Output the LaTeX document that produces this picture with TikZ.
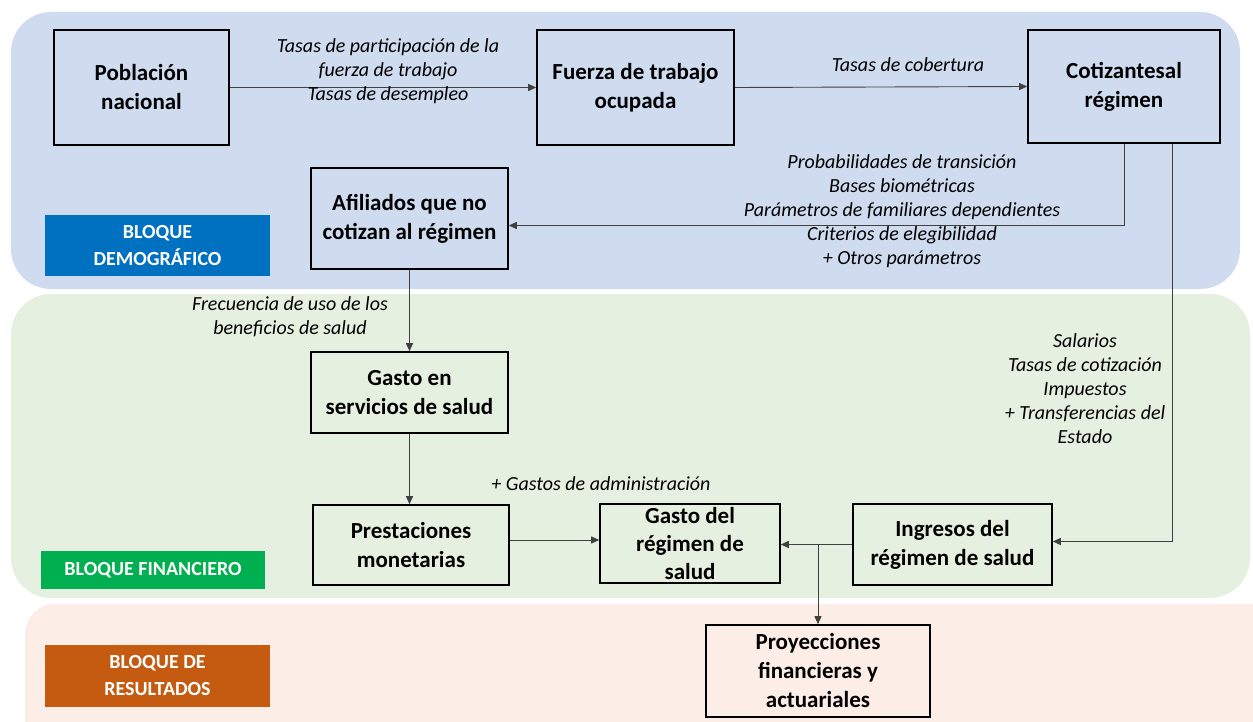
\documentclass[tikz,border=0pt]{standalone}
\usepackage{fontspec}
\setmainfont{Carlito}
\usetikzlibrary{arrows.meta}
\definecolor{bgblue}{HTML}{CFDCEF}
\definecolor{bggreen}{HTML}{E6F0E0}
\definecolor{bgpeach}{HTML}{FCEEE7}
\definecolor{tagblue}{HTML}{0070C0}
\definecolor{taggreen}{HTML}{00B050}
\definecolor{tagorange}{HTML}{C55A11}
\definecolor{linegray}{HTML}{404040}
\begin{document}
\begin{tikzpicture}[x=1pt,y=-1pt,
  box/.style={draw=black, line width=1.6pt, align=center, inner sep=0pt,
    font=\bfseries\fontsize{23}{29}\selectfont},
  tag/.style={text=white, align=center, inner sep=0pt,
    font=\bfseries\fontsize{20}{27}\selectfont},
  lbl/.style={align=center, inner sep=0pt, font=\itshape\fontsize{20}{24}\selectfont},
  conn/.style={draw=linegray, line width=0.9pt, -{Triangle[length=8pt,width=7pt]}}]
\useasboundingbox (0,0) rectangle (1253,722);
% backgrounds
\fill[bgblue, rounded corners=40pt] (11,12) rectangle (1240,289);
\fill[bggreen, rounded corners=40pt] (11,294) rectangle (1250,598);
\fill[bgpeach, rounded corners=30pt] (25,604) rectangle (1290,760);
% tags
\node[tag, fill=tagblue, minimum width=225pt, minimum height=61pt] (tdem) at (157.5,245.5) {BLOQUE\\DEMOGRÁFICO};
\node[tag, fill=taggreen, minimum width=224pt, minimum height=38pt] (tfin) at (153,570) {BLOQUE FINANCIERO};
\node[tag, fill=tagorange, minimum width=225pt, minimum height=62pt] (tres) at (157.5,676) {BLOQUE DE\\RESULTADOS};
% boxes
\node[box, minimum width=175pt, minimum height=115pt] (pob) at (141.5,87.5) {Población\\nacional};
\node[box, minimum width=197pt, minimum height=115pt] (fue) at (635.5,87.5) {Fuerza de trabajo\\ocupada};
\node[box, minimum width=192pt, minimum height=113pt] (cot) at (1124,86.5) {Cotizantesal\\régimen};
\node[box, minimum width=197pt, minimum height=101pt] (afi) at (409.5,218.5) {Afiliados que no\\cotizan al régimen};
\node[box, minimum width=197pt, minimum height=81pt] (gser) at (409.5,392.5) {Gasto en\\servicios de salud};
\node[box, minimum width=196pt, minimum height=80pt] (pre) at (411,545) {Prestaciones\\monetarias};
\node[box, minimum width=180pt, minimum height=79pt, font=\bfseries\fontsize{23}{28}\selectfont] (greg) at (690,543.5) {Gasto del\\régimen de\\salud};
\node[box, minimum width=199pt, minimum height=81pt] (ing) at (952.5,544.5) {Ingresos del\\régimen de salud};
\node[box, minimum width=224pt, minimum height=92pt] (proy) at (818,671) {Proyecciones\\financieras y\\actuariales};
% connectors
\draw[conn] (pob.east) -- (fue.west);
\draw[conn] (fue.east) -- (cot.west);
\draw[conn] (cot.south) |- ([yshift=-7pt]afi.east);
\draw[conn] ([xshift=-48pt]cot.south east) |- ([yshift=3pt]ing.east);
\draw[conn] (afi.south) -- (gser.north);
\draw[conn] (gser.south) -- (gser.south |- pre.north);
\draw[conn] ([yshift=5pt]pre.east) -- ([yshift=5pt]pre.east -| greg.west);
\draw[conn] (ing.west) -- (ing.west -| greg.east);
\coordinate (split) at (818,544.5);
\draw[conn] (split) -- (proy.north);
% labels
\node[lbl] (l1) at (388,71) {Tasas de participación de la\\fuerza de trabajo\\Tasas de desempleo};
\node[lbl] (l2) at (908,65) {Tasas de cobertura};
\node[lbl] (l3) at (902,211.5) {Probabilidades de transición\\Bases biométricas\\Parámetros de familiares dependientes\\Criterios de elegibilidad\\+ Otros parámetros};
\node[lbl] (l4) at (1085,389) {Salarios\\Tasas de cotización\\Impuestos\\+ Transferencias del\\Estado};
\node[lbl] (l5) at (290,316.5) {Frecuencia de uso de los\\beneficios de salud};
\node[lbl] (l6) at (601,484) {+ Gastos de administración};
\end{tikzpicture}
\end{document}
